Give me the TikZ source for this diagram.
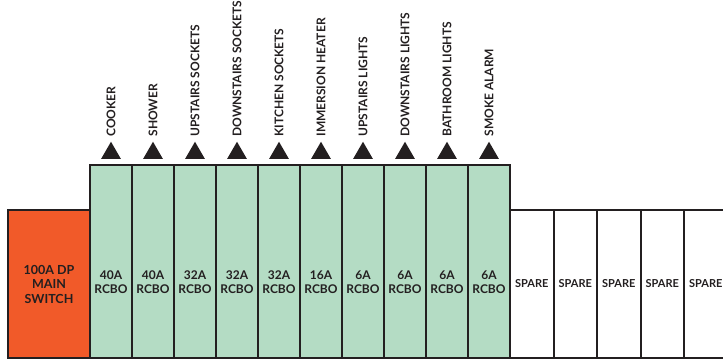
\documentclass[tikz,border=0pt]{standalone}
\usepackage{fontspec}
\setmainfont{Lato}
\usepackage{xcolor}
\usetikzlibrary{calc}
\usetikzlibrary{positioning}
\usetikzlibrary{shapes.geometric}
\definecolor{rcbogreen}{RGB}{180,220,196}
\definecolor{switchorange}{RGB}{241,90,41}
\definecolor{boardline}{RGB}{35,31,32}

\begin{document}
\begin{tikzpicture}[x=1pt, y=1pt, node distance=0pt, font=\bfseries\fontsize{12}{13.5}\selectfont]
    \tikzstyle{main}=[draw=boardline, line width=2pt, fill=switchorange, rectangle, minimum width=82pt, minimum height=148pt, inner sep=0pt, outer sep=0pt, align=center, text=boardline, font=\bfseries\fontsize{12.5}{14.5}\selectfont]
    \tikzstyle{breaker}=[draw=boardline, line width=2pt, fill=rcbogreen, rectangle, minimum width=42pt, minimum height=193pt, inner sep=0pt, outer sep=0pt]
    \tikzstyle{spare}=[draw=boardline, line width=2pt, fill=white, rectangle, minimum width=43.5pt, minimum height=148pt, inner sep=0pt, outer sep=0pt, text=boardline, font=\bfseries\fontsize{11}{13}\selectfont]
    \tikzstyle{rating}=[align=center, inner sep=0pt, text=boardline]
    \tikzstyle{arrowhead}=[regular polygon, regular polygon sides=3, fill=boardline, minimum size=23pt, inner sep=0pt, outer sep=0pt, anchor=south]
    \tikzstyle{circuit}=[rotate=90, anchor=west, inner sep=0pt, text=boardline]

    \useasboundingbox (0,-3) rectangle (723,358);

    % main switch and rcbos
    \node[main, anchor=south west] (ms) at (8,0) {100A DP\\MAIN\\SWITCH};
    \node[breaker, anchor=south west] (b1) at (ms.south east) {};
    \node[breaker, right=of b1] (b2) {};
    \node[breaker, right=of b2] (b3) {};
    \node[breaker, right=of b3] (b4) {};
    \node[breaker, right=of b4] (b5) {};
    \node[breaker, right=of b5] (b6) {};
    \node[breaker, right=of b6] (b7) {};
    \node[breaker, right=of b7] (b8) {};
    \node[breaker, right=of b8] (b9) {};
    \node[breaker, right=of b9] (b10) {};

    % spare ways
    \node[spare, anchor=south west] (s1) at (b10.south east) {SPARE};
    \node[spare, right=of s1] (s2) {SPARE};
    \node[spare, right=of s2] (s3) {SPARE};
    \node[spare, right=of s3] (s4) {SPARE};
    \node[spare, right=of s4] (s5) {SPARE};

    % ratings
    \node[rating] (r1) at ($(b1.south)+(0,76pt)$) {40A\\RCBO};
    \node[rating] (r2) at ($(b2.south)+(0,76pt)$) {40A\\RCBO};
    \node[rating] (r3) at ($(b3.south)+(0,76pt)$) {32A\\RCBO};
    \node[rating] (r4) at ($(b4.south)+(0,76pt)$) {32A\\RCBO};
    \node[rating] (r5) at ($(b5.south)+(0,76pt)$) {32A\\RCBO};
    \node[rating] (r6) at ($(b6.south)+(0,76pt)$) {16A\\RCBO};
    \node[rating] (r7) at ($(b7.south)+(0,76pt)$) {6A\\RCBO};
    \node[rating] (r8) at ($(b8.south)+(0,76pt)$) {6A\\RCBO};
    \node[rating] (r9) at ($(b9.south)+(0,76pt)$) {6A\\RCBO};
    \node[rating] (r10) at ($(b10.south)+(0,76pt)$) {6A\\RCBO};

    % outgoing circuits
    \node[arrowhead] (t1) at ($(b1.north)+(0,6pt)$) {};
    \node[arrowhead] (t2) at ($(b2.north)+(0,6pt)$) {};
    \node[arrowhead] (t3) at ($(b3.north)+(0,6pt)$) {};
    \node[arrowhead] (t4) at ($(b4.north)+(0,6pt)$) {};
    \node[arrowhead] (t5) at ($(b5.north)+(0,6pt)$) {};
    \node[arrowhead] (t6) at ($(b6.north)+(0,6pt)$) {};
    \node[arrowhead] (t7) at ($(b7.north)+(0,6pt)$) {};
    \node[arrowhead] (t8) at ($(b8.north)+(0,6pt)$) {};
    \node[arrowhead] (t9) at ($(b9.north)+(0,6pt)$) {};
    \node[arrowhead] (t10) at ($(b10.north)+(0,6pt)$) {};

    \node[circuit] (c1) at ($(t1.north)+(0,5pt)$) {COOKER};
    \node[circuit] (c2) at ($(t2.north)+(0,5pt)$) {SHOWER};
    \node[circuit] (c3) at ($(t3.north)+(0,5pt)$) {UPSTAIRS SOCKETS};
    \node[circuit] (c4) at ($(t4.north)+(0,5pt)$) {DOWNSTAIRS SOCKETS};
    \node[circuit] (c5) at ($(t5.north)+(0,5pt)$) {KITCHEN SOCKETS};
    \node[circuit] (c6) at ($(t6.north)+(0,5pt)$) {IMMERSION HEATER};
    \node[circuit] (c7) at ($(t7.north)+(0,5pt)$) {UPSTAIRS LIGHTS};
    \node[circuit] (c8) at ($(t8.north)+(0,5pt)$) {DOWNSTAIRS LIGHTS};
    \node[circuit] (c9) at ($(t9.north)+(0,5pt)$) {BATHROOM LIGHTS};
    \node[circuit] (c10) at ($(t10.north)+(0,5pt)$) {SMOKE ALARM};
\end{tikzpicture}
\end{document}
